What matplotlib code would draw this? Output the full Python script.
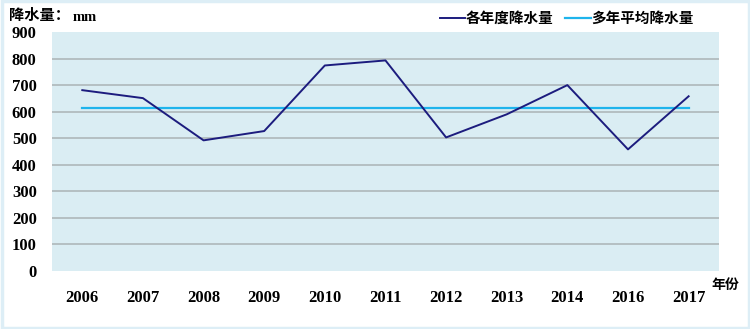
import matplotlib
matplotlib.use("Agg")
import matplotlib.pyplot as plt
from matplotlib.lines import Line2D
from matplotlib.patches import Rectangle

years = ["2006", "2007", "2008", "2009", "2010", "2011", "2012", "2013", "2014", "2016", "2017"]
rainfall = [681, 651, 492, 527, 774, 793, 503, 590, 700, 458, 658]
mean_rainfall = [614] * len(years)
yticks = [0, 100, 200, 300, 400, 500, 600, 700, 800, 900]

cjk = ["Noto Sans CJK SC", "DejaVu Sans"]
serif = ["Liberation Serif", "DejaVu Serif"]

fig = plt.figure(figsize=(7.5, 3.29), dpi=100)
fig.patch.set_facecolor("white")
fig.add_artist(Rectangle((0.002, 0.003), 0.996, 0.994, transform=fig.transFigure,
                         fill=False, edgecolor="#DDEEF6", linewidth=2.5))

ax = fig.add_axes([0.0693, 0.1763, 0.8893, 0.7264])
ax.set_facecolor("#DAEDF3")
x = list(range(len(years)))
ax.plot(x, rainfall, color="#1C1C7E", linewidth=1.4, zorder=3)
ax.plot(x, mean_rainfall, color="#1EB4EC", linewidth=1.6, zorder=2)

ax.set_xlim(-0.5, len(years) - 0.5)
ax.set_ylim(0, 900)
ax.set_yticks(yticks)
ax.set_yticklabels([str(v) for v in yticks], family=serif, fontweight="bold", fontsize=12)
ax.set_xticks(x)
ax.set_xticklabels(years, family=serif, fontweight="bold", fontsize=12)
ax.tick_params(axis="both", length=0)
ax.tick_params(axis="y", pad=11)
ax.tick_params(axis="x", pad=14)
for s in ax.spines.values():
    s.set_visible(False)
for v in yticks[1:-1]:
    ax.axhline(v, color="#AEB8BA", linewidth=1.2, zorder=1)

fig.text(0.012, 0.955, "降水量：", family=cjk, fontweight="bold", fontsize=11, va="center", ha="left")
fig.text(0.097, 0.948, "mm", family=serif, fontweight="bold", fontsize=10.5, va="center", ha="left")

handles = [Line2D([], [], color="#1C1C7E", linewidth=1.4),
           Line2D([], [], color="#1EB4EC", linewidth=1.6)]
leg = fig.legend(handles, ["各年度降水量", "多年平均降水量"], loc="center right",
                 bbox_to_anchor=(0.939, 0.945), ncol=2, frameon=False,
                 prop={"family": cjk, "weight": "bold", "size": 10.5},
                 handlelength=1.75, handletextpad=0.05, columnspacing=0.8,
                 borderpad=0.2)

fig.text(0.948, 0.134, "年份", family=cjk, fontweight="bold", fontsize=10, va="center", ha="left")

fig.savefig("out.png", dpi=100)
